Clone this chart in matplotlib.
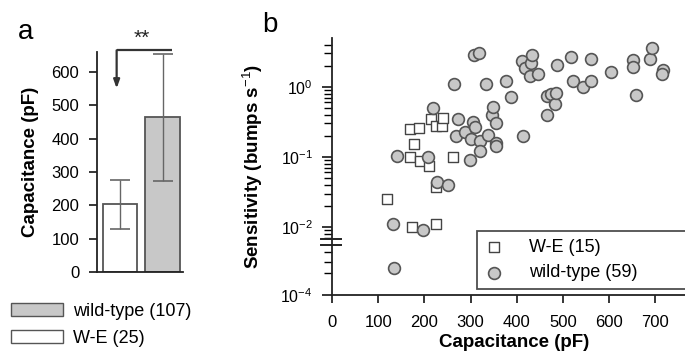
import numpy as np
import matplotlib
matplotlib.use("Agg")
import matplotlib.pyplot as plt
from matplotlib.patches import Patch
from matplotlib.ticker import FixedLocator, NullFormatter

plt.rcParams['font.family'] = ['Liberation Sans', 'DejaVu Sans']
plt.rcParams['mathtext.fontset'] = 'custom'
plt.rcParams['mathtext.rm'] = 'Liberation Sans'
plt.rcParams['mathtext.it'] = 'Liberation Sans:italic'
plt.rcParams['mathtext.bf'] = 'Liberation Sans:bold'

# panel a: mean capacitance +- sd
groups = ["W-E (25)", "wild-type (107)"]
cap_mean = [203, 464]
cap_sd = [73, 190]

# panel b: capacitance (pF) vs sensitivity (bumps/s)
we_cap = [169, 189, 214, 226, 239, 241, 177, 168, 190, 209, 262, 118, 174, 224, 224]
we_sens = [0.25, 0.26, 0.345, 0.28, 0.28, 0.36, 0.152, 0.10, 0.0875, 0.073, 0.10,
           0.0254, 0.0099, 0.011, 0.037]

wt_cap = [141, 208, 219, 264, 273, 268, 299, 287, 301, 306, 310, 307, 318, 321, 320,
          333, 338, 346, 349, 356, 354, 355, 376, 388, 413, 411, 418, 428, 430, 433,
          447, 465, 465, 475, 482, 485, 488, 518, 523, 543, 560, 560, 604, 651, 651,
          659, 688, 693, 716, 714, 132, 197, 227, 252, 134]
wt_sens = [0.102, 0.10, 0.50, 1.11, 0.35, 0.20, 0.091, 0.23, 0.18, 0.31, 0.27, 2.83,
           3.05, 0.17, 0.12, 1.11, 0.205, 0.40, 0.51, 0.30, 0.157, 0.142, 1.21, 0.71,
           0.20, 2.32, 1.86, 1.43, 2.22, 2.85, 1.51, 0.73, 0.40, 0.80, 0.56, 0.81,
           2.05, 2.63, 1.22, 1.0, 2.54, 1.23, 1.63, 2.45, 1.92, 0.76, 2.54, 3.59,
           1.75, 1.54, 0.011, 0.0091, 0.044, 0.040, 0.0008]

GREY = "#c8c8c8"
EDGE = "#555555"

# broken log axis: below the break the decades are squeezed
VB = -2.2
K = 0.43

def fwd(y):
    v = np.log10(np.clip(y, 1e-12, None))
    return np.where(v >= VB, v, VB + (v - VB) * K)

def inv(t):
    t = np.asarray(t, dtype=float)
    return np.where(t >= VB, 10.0 ** t, 10.0 ** (VB + (t - VB) / K))

fig = plt.figure(figsize=(6.85, 3.56), dpi=100)

# ---------- panel a ----------
axa = fig.add_axes([0.142, 0.235, 0.1255, 0.62])
xpos = np.arange(len(groups))
axa.bar(xpos, cap_mean, width=0.82, color=["white", GREY], edgecolor=EDGE, linewidth=1.3)
axa.errorbar(xpos, cap_mean, yerr=cap_sd, fmt="none", ecolor="#666666",
             elinewidth=1.0, capsize=7, capthick=1.2)
axa.set_xlim(-0.536, 1.487)
axa.set_ylim(0, 660)
axa.set_yticks(range(0, 700, 100))
axa.set_xticks([])
axa.spines[['top', 'right']].set_visible(False)
for s in ['left', 'bottom']:
    axa.spines[s].set_linewidth(1.3)
    axa.spines[s].set_color("#222222")
axa.tick_params(axis='y', direction='out', length=6, width=1.1, pad=7, labelsize=12)
axa.set_ylabel("Capacitance (pF)", fontsize=13.5, fontweight='bold', labelpad=9)

ytop = max(m + s for m, s in zip(cap_mean, cap_sd)) + 10
x0 = xpos[0] - 0.08
x1 = xpos[1] + 0.22
axa.plot([x0, x1], [ytop, ytop], color="#333333", lw=1.6, clip_on=False, solid_capstyle='butt')
axa.annotate("", xy=(x0, ytop - 114), xytext=(x0, ytop), annotation_clip=False,
             arrowprops=dict(arrowstyle='-|>,head_length=0.5,head_width=0.18',
                             color="#333333", lw=1.6, shrinkA=0, shrinkB=0))
axa.text((xpos[0] + xpos[1]) / 2, ytop + 6, "**", ha='center', va='bottom',
         fontsize=15, color="#222222", clip_on=False)

fig.text(0.037, 0.91, "a", fontsize=20, ha='center', va='center')

handles_a = [Patch(facecolor=GREY, edgecolor=EDGE, linewidth=1.0),
             Patch(facecolor="white", edgecolor=EDGE, linewidth=1.0)]
fig.legend(handles_a, [groups[1], groups[0]], loc='upper left',
           bbox_to_anchor=(0.005, 0.17), frameon=False, fontsize=13,
           handlelength=2.9, handleheight=0.7, handletextpad=0.55,
           labelspacing=0.55, borderaxespad=0.0)

# ---------- panel b ----------
axb = fig.add_axes([0.485, 0.171, 0.532, 0.722])
axb.set_yscale('function', functions=(fwd, inv))
axb.scatter(we_cap, we_sens, marker='s', s=52, facecolor='white', edgecolor="#444444",
            linewidth=1.0, zorder=3, label="W-E (15)")
axb.scatter(wt_cap, wt_sens, marker='o', s=72, facecolor=GREY, edgecolor=EDGE,
            linewidth=1.2, zorder=3, label="wild-type (59)")
axb.set_xlim(0, 790)
axb.set_ylim(1e-4, 4.97)
axb.set_xticks(range(0, 800, 100))

major = [1e-4, 1e-2, 1e-1, 1.0]
axb.yaxis.set_major_locator(FixedLocator(major))
axb.set_yticklabels(["$10^{-4}$", "$10^{-2}$", "$10^{-1}$", "$10^{0}$"])
minor = [k * 10.0 ** e for e in (-3, -2, -1, 0) for k in range(2, 10)]
minor = [m for m in minor if 10 ** VB < m <= 5.0]
minor += [0.0027, 0.00126, 0.00054]
axb.yaxis.set_minor_locator(FixedLocator(minor))
axb.yaxis.set_minor_formatter(NullFormatter())

axb.spines[['top', 'right']].set_visible(False)
for s in ['left', 'bottom']:
    axb.spines[s].set_linewidth(1.3)
    axb.spines[s].set_color("#222222")
axb.tick_params(axis='y', which='major', direction='out', length=7, width=1.1, pad=7, labelsize=11.5)
axb.tick_params(axis='y', which='minor', direction='out', length=6, width=1.0)
axb.tick_params(axis='x', direction='out', length=6, width=1.1, pad=8, labelsize=12)
axb.set_xlabel("Capacitance (pF)", fontsize=13.5, fontweight='bold', labelpad=3)
axb.set_ylabel("Sensitivity (bumps s$^{-1}$)", fontsize=13.5, fontweight='bold', labelpad=11)

# break marks on the y axis
for yb in (10 ** -2.17, 10 ** -2.33):
    axb.plot([-0.03, 0.024], [yb, yb], transform=axb.get_yaxis_transform(),
             color="#222222", lw=1.4, clip_on=False)

leg = axb.legend(loc='lower left', bbox_to_anchor=(0.397, 0.022, 0.7, 0.2), mode='expand',
                 fontsize=13, frameon=True, fancybox=False, edgecolor="#222222",
                 borderpad=0.45, handlelength=1.0, handletextpad=1.45,
                 labelspacing=0.45, borderaxespad=0.0)
leg.get_frame().set_linewidth(1.3)

fig.text(0.394, 0.93, "b", fontsize=20, ha='center', va='center')

fig.savefig("out.png", dpi=100)
